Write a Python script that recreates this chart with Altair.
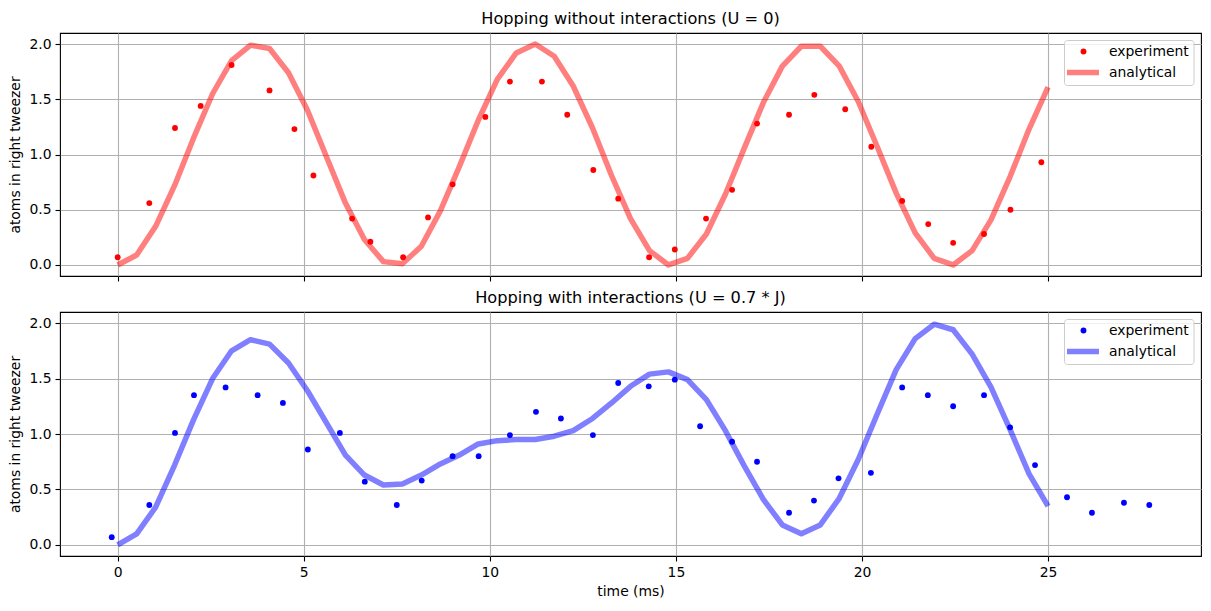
import altair as alt
import pandas as pd

# ---------------- data ----------------
t_analytical = [0.00, 0.51, 1.02, 1.53, 2.04, 2.55, 3.06, 3.57, 4.08, 4.59,
                5.10, 5.61, 6.12, 6.63, 7.14, 7.65, 8.16, 8.67, 9.18, 9.69,
                10.20, 10.71, 11.22, 11.73, 12.24, 12.76, 13.27, 13.78, 14.29, 14.80,
                15.31, 15.82, 16.33, 16.84, 17.35, 17.86, 18.37, 18.88, 19.39, 19.90,
                20.41, 20.92, 21.43, 21.94, 22.45, 22.96, 23.47, 23.98, 24.49, 25.00]

y_analytical_top = [0.00, 0.09, 0.35, 0.72, 1.15, 1.55, 1.85, 1.99, 1.96, 1.74,
                    1.40, 0.98, 0.56, 0.23, 0.03, 0.01, 0.17, 0.49, 0.89, 1.31,
                    1.68, 1.92, 2.00, 1.89, 1.62, 1.24, 0.81, 0.42, 0.13, 0.00,
                    0.06, 0.28, 0.64, 1.06, 1.47, 1.80, 1.98, 1.98, 1.80, 1.48,
                    1.07, 0.65, 0.29, 0.06, 0.00, 0.13, 0.41, 0.80, 1.23, 1.61]

y_analytical_bottom = [0.00, 0.10, 0.34, 0.72, 1.13, 1.50, 1.75, 1.85, 1.81, 1.64,
                       1.39, 1.10, 0.81, 0.63, 0.54, 0.55, 0.63, 0.73, 0.81, 0.91,
                       0.94, 0.95, 0.95, 0.98, 1.03, 1.14, 1.28, 1.43, 1.54, 1.56,
                       1.49, 1.31, 1.03, 0.71, 0.41, 0.18, 0.10, 0.18, 0.42, 0.77,
                       1.18, 1.58, 1.86, 1.99, 1.94, 1.72, 1.42, 1.04, 0.64, 0.35]

t_exp_top = [0.00, 0.85, 1.54, 2.23, 3.06, 4.08, 4.75, 5.26, 6.30, 6.79,
             7.67, 8.34, 9.00, 9.88, 10.54, 11.40, 12.08, 12.78, 13.45, 14.28,
             14.97, 15.81, 16.51, 17.18, 18.04, 18.72, 19.55, 20.25, 21.08, 21.78,
             22.45, 23.28, 23.99, 24.82]
y_exp_top = [0.07, 0.56, 1.24, 1.44, 1.81, 1.58, 1.23, 0.81, 0.42, 0.21,
             0.07, 0.43, 0.73, 1.34, 1.66, 1.66, 1.36, 0.86, 0.60, 0.07,
             0.14, 0.42, 0.68, 1.28, 1.36, 1.54, 1.41, 1.07, 0.58, 0.37,
             0.20, 0.28, 0.50, 0.93]

t_exp_bottom = [-0.16, 0.85, 1.54, 2.05, 2.90, 3.76, 4.44, 5.11, 5.97, 6.64,
                7.50, 8.17, 9.00, 9.70, 10.54, 11.24, 11.91, 12.77, 13.45, 14.27,
                14.97, 15.65, 16.51, 17.18, 18.04, 18.71, 19.37, 20.24, 21.08, 21.77,
                22.45, 23.28, 23.98, 24.65, 25.51, 26.18, 27.04, 27.72]
y_exp_bottom = [0.07, 0.36, 1.01, 1.35, 1.42, 1.35, 1.28, 0.86, 1.01, 0.57,
                0.36, 0.58, 0.80, 0.80, 0.99, 1.20, 1.14, 0.99, 1.46, 1.43,
                1.49, 1.07, 0.93, 0.75, 0.29, 0.40, 0.60, 0.65, 1.42, 1.35,
                1.25, 1.35, 1.06, 0.72, 0.43, 0.29, 0.38, 0.36]

x_ticks = [0, 5, 10, 15, 20, 25]
y_ticks = [0.0, 0.5, 1.0, 1.5, 2.0]
legend_labels = ["experiment", "analytical"]

title_top = "Hopping without interactions (U = 0)"
title_bottom = "Hopping with interactions (U = 0.7 * J)"

FONT = "DejaVu Sans"
FS = 13.9
W = 1141


def panel(t_exp, y_exp, y_an, color, title, bottom, height):
    exp = pd.DataFrame({"t": t_exp, "y": y_exp})
    an = pd.DataFrame({"t": t_analytical, "y": y_an})
    xscale = alt.Scale(domain=[-1.55, 29.11], nice=False, zero=False)
    yscale = alt.Scale(domain=[-0.1, 2.1], nice=False, zero=False)
    if bottom:
        xaxis = alt.Axis(values=x_ticks, format="d", title="time (ms)")
    else:
        xaxis = alt.Axis(values=x_ticks, labels=False, title=None)
    yaxis = alt.Axis(values=y_ticks, format=".1f", title="atoms in right tweezer")

    pts = alt.Chart(exp).mark_circle(color=color, size=34, opacity=1).encode(
        x=alt.X("t:Q", scale=xscale, axis=xaxis),
        y=alt.Y("y:Q", scale=yscale, axis=yaxis),
    )
    line = alt.Chart(an).mark_line(color=color, opacity=0.5, strokeWidth=5.5,
                                   strokeJoin="round").encode(
        x=alt.X("t:Q", scale=xscale),
        y=alt.Y("y:Q", scale=yscale),
    )

    # legend (drawn inside the plot, top right)
    box = alt.Chart(pd.DataFrame({"a": [0]})).mark_rect(
        fill="white", fillOpacity=0.8, stroke="#cccccc", strokeWidth=1, cornerRadius=3
    ).encode(x=alt.value(1004.5), x2=alt.value(1134), y=alt.value(7.5), y2=alt.value(52.5))
    lpt = alt.Chart(pd.DataFrame({"a": [0]})).mark_circle(color=color, size=34, opacity=1).encode(
        x=alt.value(1023.5), y=alt.value(18.5))
    lline = alt.Chart(pd.DataFrame({"a": [0]})).mark_rule(
        color=color, opacity=0.5, strokeWidth=5.5).encode(
        x=alt.value(1007), x2=alt.value(1039), y=alt.value(39.5))
    ltxt1 = alt.Chart(pd.DataFrame({"label": [legend_labels[0]]})).mark_text(
        align="left", baseline="middle", font=FONT, fontSize=FS, color="black").encode(
        x=alt.value(1049), y=alt.value(18.5), text="label:N")
    ltxt2 = alt.Chart(pd.DataFrame({"label": [legend_labels[1]]})).mark_text(
        align="left", baseline="middle", font=FONT, fontSize=FS, color="black").encode(
        x=alt.value(1049), y=alt.value(39.5), text="label:N")

    return alt.layer(pts, line, box, lpt, lline, ltxt1, ltxt2).properties(
        width=W, height=height,
        title=alt.TitleParams(title, font=FONT, fontSize=16.2, fontWeight="normal",
                              color="black", offset=6, anchor="middle"),
    )


top = panel(t_exp_top, y_exp_top, y_analytical_top, "#ff0000", title_top, False, 243)
bottom = panel(t_exp_bottom, y_exp_bottom, y_analytical_bottom, "#0000ff", title_bottom, True, 244)

chart = alt.vconcat(top, bottom, spacing=6).properties(
    padding={"left": 8, "top": 10, "right": 9, "bottom": 5}
).configure_view(
    stroke="black", strokeWidth=1.1
).configure_axis(
    domain=False,
    grid=True, gridColor="#b0b0b0", gridWidth=1.1,
    ticks=True, tickColor="black", tickSize=5, tickWidth=1.1,
    labelFont=FONT, labelFontSize=FS, labelColor="black", labelPadding=4,
    titleFont=FONT, titleFontSize=FS, titleColor="black", titleFontWeight="normal",
    titlePadding=6,
).configure_concat(spacing=6)

chart.save("out.html", embed_options={"renderer": "svg", "actions": False})
